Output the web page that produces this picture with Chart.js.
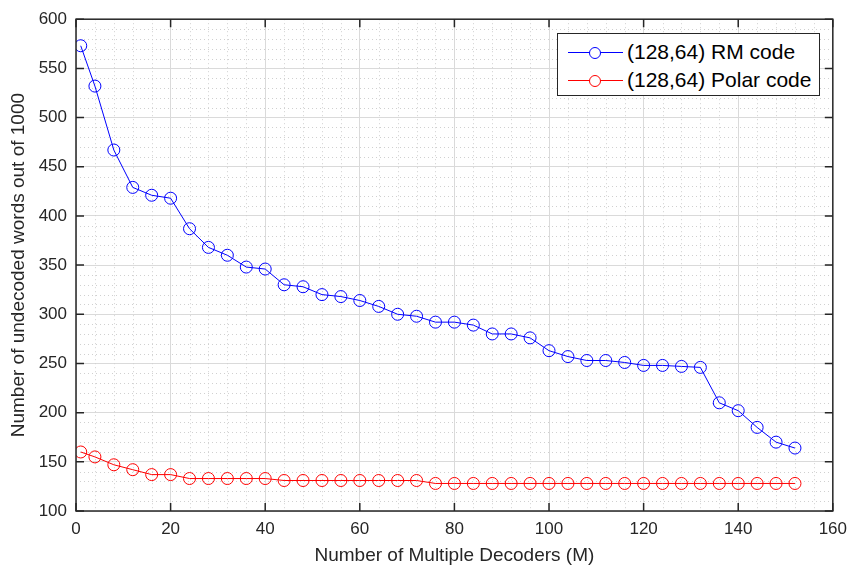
<!DOCTYPE html>
<html>
<head>
<meta charset="utf-8">
<script src="https://cdn.jsdelivr.net/npm/chart.js@4.4.1/dist/chart.umd.min.js"></script>
<style>
  html, body { margin: 0; padding: 0; background: #fff; }
  #wrap { position: relative; width: 855px; height: 567px; }
  #legend {
    position: absolute; left: 557px; top: 33px; width: 263px; height: 63px;
    border: 1px solid #262626; background: #fff; box-sizing: border-box;
    font-family: "Liberation Sans", Arial, sans-serif; font-size: 21px; color: #000;
  }
  .row { position: absolute; left: 0; height: 26px; line-height: 26px; white-space: nowrap; }
  .sample { position: absolute; left: 10px; top: 13px; width: 55px; height: 1px; }
  .dot { position: absolute; left: 21px; top: -5px; width: 10px; height: 10px; border-radius: 50%; background: #fff; }
  .lbl { position: absolute; left: 69px; top: 0; }
</style>
</head>
<body>
<div id="wrap">
  <canvas id="myChart" width="855" height="567"></canvas>
  <div id="legend">
    <div class="row" style="top:5px">
      <div class="sample" style="background:#0000ff"><div class="dot" style="border:1px solid #0000ff"></div></div>
      <span class="lbl">(128,64) RM code</span>
    </div>
    <div class="row" style="top:33px">
      <div class="sample" style="background:#ff0000"><div class="dot" style="border:1px solid #ff0000"></div></div>
      <span class="lbl">(128,64) Polar code</span>
    </div>
  </div>
</div>
<script>
const decoders = [1, 4, 8, 12, 16, 20, 24, 28, 32, 36, 40, 44, 48, 52, 56, 60, 64, 68, 72, 76,
    80, 84, 88, 92, 96, 100, 104, 108, 112, 116, 120, 124, 128, 132, 136, 140, 144, 148, 152];
const rmCode = [573, 532, 467, 429, 421, 418, 387, 368, 360, 348, 346, 330, 328, 320, 318, 314, 308, 300, 298, 292,
    292, 289, 280, 280, 276, 263, 257, 253, 253, 251, 248, 248, 247, 246, 210, 202, 185, 170, 164];
const polarCode = [160, 155, 147, 142, 137, 137, 133, 133, 133, 133, 133, 131, 131, 131, 131, 131, 131, 131, 131, 128,
    128, 128, 128, 128, 128, 128, 128, 128, 128, 128, 128, 128, 128, 128, 128, 128, 128, 128, 128];
const seriesNames = ['(128,64) RM code', '(128,64) Polar code'];
const xTitle = 'Number of Multiple Decoders (M)';
const yTitle = 'Number of undecoded words out of 1000';

const FONT = '"Liberation Sans", Arial, sans-serif';
const TEXT = '#262626';

function toPoints(ys) {
    return decoders.map((x, i) => ({ x: x, y: ys[i] }));
}

// minor dotted grid, box and inward ticks (matlab look)
const boxPlugin = {
    id: 'boxPlugin',
    beforeDatasetsDraw(chart) {
        const { ctx, chartArea: a, scales } = chart;
        ctx.save();
        ctx.strokeStyle = '#d0d0d0';
        ctx.lineWidth = 1;
        ctx.setLineDash([1, 3]);
        for (let v = 4; v < 160; v += 4) {
            if (v % 20 === 0) continue;
            const px = Math.round(scales.x.getPixelForValue(v)) + 0.5;
            ctx.beginPath(); ctx.moveTo(px, a.top); ctx.lineTo(px, a.bottom); ctx.stroke();
        }
        for (let v = 110; v < 600; v += 10) {
            if (v % 50 === 0) continue;
            const py = Math.round(scales.y.getPixelForValue(v)) + 0.5;
            ctx.beginPath(); ctx.moveTo(a.left, py); ctx.lineTo(a.right, py); ctx.stroke();
        }
        ctx.restore();
    },
    afterDraw(chart) {
        const { ctx, chartArea: a, scales } = chart;
        ctx.save();
        ctx.strokeStyle = TEXT;
        ctx.lineWidth = 1.5;
        ctx.strokeRect(a.left, a.top, a.right - a.left, a.bottom - a.top);
        const len = 8;
        ctx.beginPath();
        for (let v = 0; v <= 160; v += 20) {
            const px = scales.x.getPixelForValue(v);
            ctx.moveTo(px, a.bottom); ctx.lineTo(px, a.bottom - len);
            ctx.moveTo(px, a.top); ctx.lineTo(px, a.top + len);
        }
        for (let v = 100; v <= 600; v += 50) {
            const py = scales.y.getPixelForValue(v);
            ctx.moveTo(a.left, py); ctx.lineTo(a.left + len, py);
            ctx.moveTo(a.right, py); ctx.lineTo(a.right - len, py);
        }
        ctx.stroke();
        ctx.restore();
    }
};

let ctx = document.getElementById('myChart').getContext('2d');
let myChart = new Chart(ctx, {
    type: 'line',
    data: {
        datasets: [
            {
                label: seriesNames[0], data: toPoints(rmCode),
                borderColor: '#0000ff', backgroundColor: 'rgba(0,0,0,0)',
                pointBorderColor: '#0000ff', pointBackgroundColor: 'rgba(0,0,0,0)',
                borderWidth: 1, pointRadius: 6, pointBorderWidth: 1, tension: 0
            },
            {
                label: seriesNames[1], data: toPoints(polarCode),
                borderColor: '#ff0000', backgroundColor: 'rgba(0,0,0,0)',
                pointBorderColor: '#ff0000', pointBackgroundColor: 'rgba(0,0,0,0)',
                borderWidth: 1, pointRadius: 6, pointBorderWidth: 1, tension: 0
            }
        ]
    },
    options: {
        responsive: false,
        animation: false,
        layout: { padding: { top: 16, right: 17, left: 0, bottom: 0 } },
        plugins: { legend: { display: false }, tooltip: { enabled: false } },
        scales: {
            x: {
                type: 'linear', min: 0, max: 160,
                ticks: { stepSize: 20, color: TEXT, padding: 8, font: { family: FONT, size: 17 } },
                grid: { color: '#dadada', lineWidth: 1, drawTicks: false },
                border: { display: false },
                title: { display: true, text: xTitle, color: TEXT, padding: { top: 1, bottom: 0 },
                         font: { family: FONT, size: 19 } },
                afterFit: s => { s.height = 56; }
            },
            y: {
                min: 100, max: 600,
                ticks: { stepSize: 50, color: TEXT, padding: 9, font: { family: FONT, size: 17 } },
                grid: { color: '#dadada', lineWidth: 1, drawTicks: false },
                border: { display: false },
                title: { display: true, text: yTitle, color: TEXT, padding: { top: 7, bottom: 0 },
                         font: { family: FONT, size: 19 } },
                afterFit: s => { s.width = 76; }
            }
        }
    },
    plugins: [boxPlugin]
});
</script>
</body>
</html>
